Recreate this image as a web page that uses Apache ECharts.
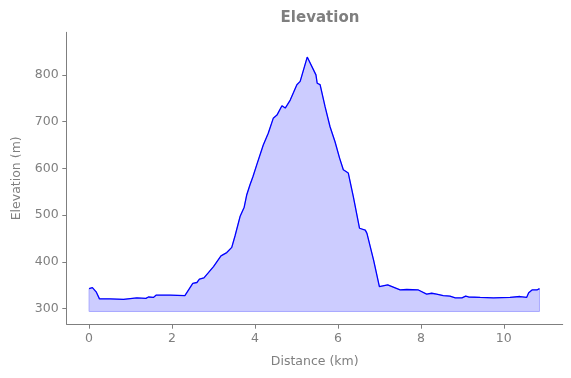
<!DOCTYPE html>
<html>
<head>
<meta charset="utf-8">
<script src="https://cdn.jsdelivr.net/npm/echarts@6/dist/echarts.min.js"></script>
<style>
    html, body { margin: 0; padding: 0; background: #fff; }
    #chart { width: 571px; height: 378px; }
</style>
</head>
<body>
<div id="chart"></div>
<script>
// 距离 (km)
var distKm = [0, 0.08, 0.17, 0.25, 0.5, 0.83, 1.15, 1.37, 1.43, 1.55, 1.62, 1.95, 2.31, 2.5, 2.6, 2.66, 2.77,
    3.0, 3.18, 3.32, 3.44, 3.52, 3.64, 3.74, 3.8, 3.88, 3.95, 4.04, 4.2, 4.32, 4.44, 4.53, 4.65, 4.73, 4.85,
    5.01, 5.09, 5.26, 5.47, 5.5, 5.57, 5.69, 5.81, 5.93, 6.04, 6.13, 6.25, 6.37, 6.52, 6.66, 6.7, 6.74, 6.86,
    7.0, 7.2, 7.5, 7.66, 7.94, 8.14, 8.26, 8.38, 8.54, 8.7, 8.83, 8.99, 9.08, 9.15, 9.43, 9.75, 10.15, 10.39,
    10.55, 10.6, 10.68, 10.8, 10.86];
// 海拔 (m)
var elevM = [343, 345, 336, 321, 321, 320, 323, 322, 325, 324, 329, 329, 328, 354, 356, 363, 366,
    390, 413, 420, 431, 456, 497, 517, 543, 565, 582, 607, 650, 675, 707, 714, 734, 729, 746,
    779, 786, 838, 800, 782, 779, 732, 689, 657, 622, 597, 590, 540, 472, 468, 461, 465, 404,
    347, 351, 340, 341, 340, 331, 333, 331, 328, 327, 323, 323, 327, 325, 324, 323, 324, 326,
    324, 334, 340, 340, 343];
var fillBase = 294;
var xTicks = [0, 2, 4, 6, 8, 10];
var yTicks = [300, 400, 500, 600, 700, 800];

var textColor = '#7f7f7f';

// 组装数据
var profile = distKm.map(function (d, i) { return [d, elevM[i]]; });
var outline = [[distKm[0], fillBase]].concat(profile, [[distKm[distKm.length - 1], fillBase], [distKm[0], fillBase]]);

var myChart = echarts.init(document.getElementById('chart'));

var option = {
    animation: false,
    title: {
        text: 'Elevation',
        left: 315,
        top: 6,
        textAlign: 'center',
        textStyle: {
            color: textColor,
            fontFamily: 'DejaVu Sans',
            fontSize: 15,
            fontWeight: 'bold'
        }
    },
    grid: {
        left: 66.7,
        right: 8.3,
        top: 32.3,
        bottom: 53.7,
        outerBoundsMode: 'none'
    },
    xAxis: {
        type: 'value',
        min: -0.54,
        max: 11.42,
        name: 'Distance (km)',
        nameLocation: 'middle',
        nameGap: 31,
        nameTextStyle: { color: textColor, fontFamily: 'DejaVu Sans', fontSize: 12.5 },
        splitLine: { show: false },
        axisLine: { onZero: false, lineStyle: { color: textColor, width: 1 } },
        axisTick: { show: true, length: 4.4, lineStyle: { color: textColor }, customValues: xTicks },
        axisLabel: {
            color: textColor, fontFamily: 'DejaVu Sans', fontSize: 12.5, margin: 8,
            customValues: xTicks
        }
    },
    yAxis: {
        type: 'value',
        min: 266.6,
        max: 891,
        name: 'Elevation (m)',
        nameLocation: 'middle',
        nameGap: 43,
        nameTextStyle: { color: textColor, fontFamily: 'DejaVu Sans', fontSize: 12.5 },
        splitLine: { show: false },
        axisLine: { show: true, onZero: false, lineStyle: { color: textColor, width: 1 } },
        axisTick: { show: true, length: 4.4, lineStyle: { color: textColor }, customValues: yTicks },
        axisLabel: {
            color: textColor, fontFamily: 'DejaVu Sans', fontSize: 12.5, margin: 8,
            customValues: yTicks
        }
    },
    series: [
        {
            // 填充区域
            type: 'line',
            data: profile,
            showSymbol: false,
            silent: true,
            lineStyle: { width: 0 },
            areaStyle: { color: '#ccccff', opacity: 1, origin: fillBase },
            z: 1
        },
        {
            // 填充边框
            type: 'line',
            data: outline,
            showSymbol: false,
            silent: true,
            lineStyle: { color: '#aaaaff', width: 1 },
            z: 2
        },
        {
            type: 'line',
            data: profile,
            showSymbol: false,
            lineStyle: { color: '#0000ff', width: 1.3 },
            z: 3
        }
    ]
};

myChart.setOption(option);
</script>
</body>
</html>
